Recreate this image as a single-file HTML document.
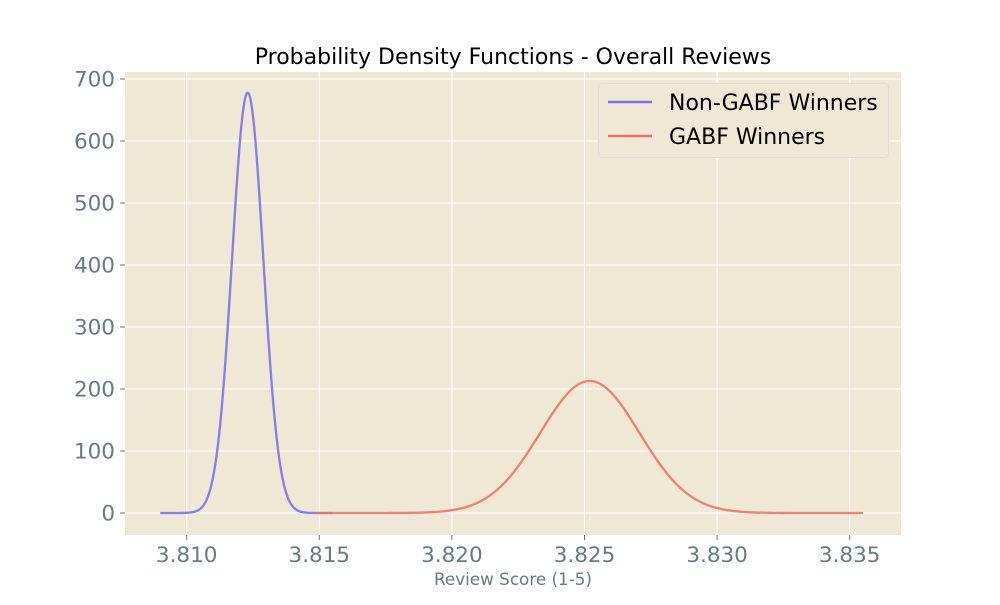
<!DOCTYPE html>
<html><head><meta charset="utf-8"><style>
body{margin:0;background:#fff;}
svg{font-family:"DejaVu Sans","Liberation Sans",sans-serif;}
</style></head><body>
<svg id="chart" width="1000" height="600">
<rect x="125" y="72" width="776" height="463" fill="#eee8d5"/>
<g id="grid"></g><g id="ticks"></g><g id="series"></g>
<text x="513" y="64" text-anchor="middle" font-size="22" fill="#000">Probability Density Functions - Overall Reviews</text>
<text x="513" y="585" text-anchor="middle" font-size="16.8" fill="#657b83">Review Score (1-5)</text>
<g>
<rect x="598.5" y="83.5" width="290" height="74" rx="4" fill="#eee8d5" stroke="#ddd" stroke-width="1"/>
<line x1="608" y1="102" x2="652" y2="102" stroke="#7b6ff0" stroke-width="2.5"/>
<text x="669" y="110" font-size="22" fill="#000">Non-GABF Winners</text>
<line x1="608" y1="136" x2="652" y2="136" stroke="#f47264" stroke-width="2.5"/>
<text x="669" y="144" font-size="22" fill="#000">GABF Winners</text>
</g>
</svg>
<script>
const seriesNames=["Non-GABF Winners","GABF Winners"];
const seriesMeans=[3.8123,3.8252];
const seriesPeaks=[678,213];
const seriesStart=[3.8090,3.8149];
const seriesEnd=[3.8155,3.8355];
const seriesColors=["#7b6ff0","#f47264"];
const xTicks=[3.810,3.815,3.820,3.825,3.830,3.835];
const xTickLabels=["3.810","3.815","3.820","3.825","3.830","3.835"];
const yTicks=[0,100,200,300,400,500,600,700];
const yTickLabels=["0","100","200","300","400","500","600","700"];
const NS="http://www.w3.org/2000/svg";
function xs(v){return 186.7+(v-3.810)/0.005*132.6;}
function ys(v){return 513-v*0.62;}
const grid=document.getElementById('grid'),ticks=document.getElementById('ticks'),ser=document.getElementById('series');
function mk(tag,attrs,parent){const e=document.createElementNS(NS,tag);for(const k in attrs)e.setAttribute(k,attrs[k]);parent.appendChild(e);return e;}
xTicks.forEach((t,i)=>{const x=xs(t);
const g=mk('line',{x1:x,x2:x,y1:72,y2:535,stroke:'#fff','stroke-width':1},grid);


mk('line',{x1:x,x2:x,y1:535,y2:540,stroke:'#657b83'},ticks);
const tx=mk('text',{x:x,y:562,'text-anchor':'middle','font-size':21.5,fill:'#657b83'},ticks);tx.textContent=xTickLabels[i];

});
yTicks.forEach((t,i)=>{const y=ys(t);
const g=mk('line',{x1:125,x2:901,y1:y,y2:y,stroke:'#fff','stroke-width':1},grid);


mk('line',{x1:120,x2:125,y1:y,y2:y,stroke:'#657b83'},ticks);
const tx=mk('text',{x:115,y:y+7.5,'text-anchor':'end','font-size':21.5,fill:'#657b83'},ticks);tx.textContent=yTickLabels[i];

});
seriesNames.forEach((n,s)=>{const sd=1/(seriesPeaks[s]*Math.sqrt(2*Math.PI));let d='';const N=300;
for(let k=0;k<=N;k++){const v=seriesStart[s]+(seriesEnd[s]-seriesStart[s])*k/N;const p=seriesPeaks[s]*Math.exp(-0.5*Math.pow((v-seriesMeans[s])/sd,2));d+=(k?'L':'M')+xs(v).toFixed(2)+','+ys(p).toFixed(2);}
const p=mk('path',{d:d,fill:'none',stroke:seriesColors[s],'stroke-width':2.3,'stroke-opacity':0.9},ser);

});
</script>
</body></html>
